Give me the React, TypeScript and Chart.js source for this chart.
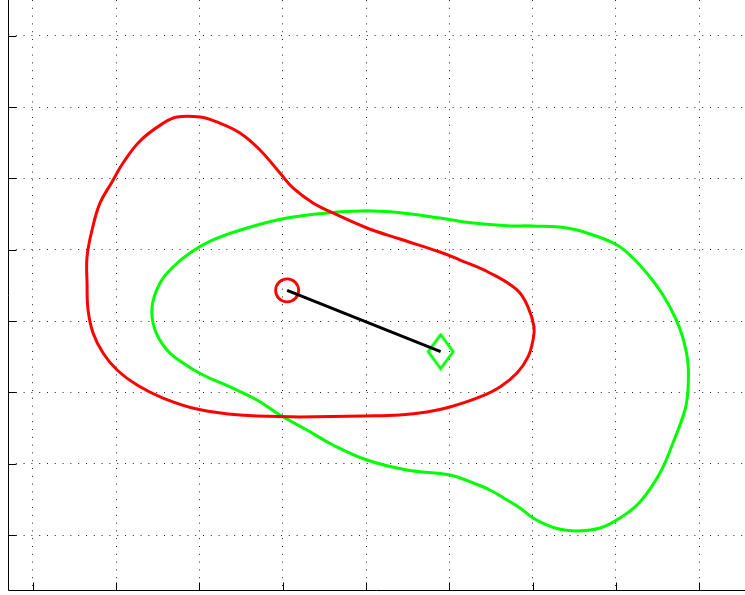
import React, { useEffect, useRef } from "react";
import { Chart, registerables } from "chart.js";

Chart.register(...registerables);

// Axis ticks (no labels shown in the reference)
const xTicks = [0, 1, 2, 3, 4, 5, 6, 7, 8];
const yTicks = [0, 1, 2, 3, 4, 5, 6, 7];
const xRange = [-0.298, 8.55];
const yRange = [-0.771, 7.5];

// Red closed contour
const redX = [1.731, 2.007, 2.211, 2.487, 2.727, 2.967, 3.123, 3.363, 3.603, 4.011, 4.407, 4.888, 5.128, 5.488, 5.813, 5.945, 6.017, 6.005, 5.945, 5.813, 5.608, 5.368, 5.008, 4.732, 4.407, 3.963, 3.207, 2.487, 1.971, 1.563, 1.251, 1.011, 0.843, 0.723, 0.663, 0.651, 0.651, 0.711, 0.807, 0.951, 1.083, 1.287, 1.551];
const redY = [5.860, 5.860, 5.790, 5.636, 5.398, 5.075, 4.865, 4.655, 4.515, 4.304, 4.150, 3.967, 3.855, 3.673, 3.435, 3.196, 2.916, 2.734, 2.496, 2.271, 2.075, 1.935, 1.794, 1.724, 1.682, 1.668, 1.654, 1.682, 1.766, 1.920, 2.103, 2.313, 2.552, 2.832, 3.155, 3.533, 3.898, 4.276, 4.655, 4.950, 5.215, 5.524, 5.762];

// Green closed contour
const greenX = [1.431, 1.527, 1.683, 1.887, 2.163, 2.571, 3.051, 3.567, 4.011, 4.407, 4.888, 5.284, 5.692, 6.005, 6.413, 6.725, 7.013, 7.205, 7.409, 7.565, 7.709, 7.805, 7.865, 7.865, 7.829, 7.685, 7.529, 7.289, 7.049, 6.809, 6.533, 6.329, 6.173, 6.005, 5.848, 5.692, 5.488, 5.248, 5.008, 4.492, 4.011, 3.603, 3.291, 2.967, 2.691, 2.367, 2.043, 1.803, 1.611, 1.467];
const greenY = [3.196, 3.533, 3.757, 3.953, 4.136, 4.304, 4.444, 4.518, 4.546, 4.518, 4.444, 4.374, 4.336, 4.332, 4.304, 4.206, 4.066, 3.883, 3.617, 3.365, 3.056, 2.762, 2.411, 2.033, 1.752, 1.290, 0.869, 0.463, 0.238, 0.098, 0.056, 0.080, 0.140, 0.238, 0.379, 0.491, 0.631, 0.747, 0.841, 0.911, 1.051, 1.262, 1.472, 1.682, 1.893, 2.075, 2.243, 2.411, 2.594, 2.874];

// Centres
const redCenter = [3.053, 3.428];
const greenCenter = [4.896, 2.570];

// Build a closed path, starting the loop at a flat part of the contour
const closed = (xs: number[], ys: number[], start: number) => {
  const n = xs.length;
  const pts = [];
  for (let k = 0; k <= n; k++) {
    const i = (start + k) % n;
    pts.push({ x: xs[i], y: ys[i] });
  }
  return pts;
};

const makeDiamond = () => {
  const c = document.createElement("canvas");
  c.width = 30;
  c.height = 38;
  const g = c.getContext("2d")!;
  g.strokeStyle = "#00ff00";
  g.lineWidth = 2.8;
  g.lineJoin = "miter";
  g.beginPath();
  g.moveTo(15, 2);
  g.lineTo(27.5, 19);
  g.lineTo(15, 36);
  g.lineTo(2.5, 19);
  g.closePath();
  g.stroke();
  return c;
};

const axesPlugin = {
  id: "matlabAxes",
  afterDraw(chart: any) {
    const { ctx, chartArea, scales } = chart;
    const { left, right, top, bottom } = chartArea;
    const L = Math.round(left) + 0.5;
    const B = Math.round(bottom) + 0.5;
    ctx.save();
    ctx.strokeStyle = "#000";
    ctx.lineWidth = 1;
    ctx.setLineDash([]);
    ctx.beginPath();
    ctx.moveTo(L, top);
    ctx.lineTo(L, B);
    ctx.lineTo(right, B);
    xTicks.forEach((v) => {
      const px = Math.round(scales.x.getPixelForValue(v)) + 0.5;
      ctx.moveTo(px, B);
      ctx.lineTo(px, B - 8);
    });
    yTicks.forEach((v) => {
      const py = Math.round(scales.y.getPixelForValue(v)) + 0.5;
      ctx.moveTo(L, py);
      ctx.lineTo(L + 8, py);
    });
    ctx.stroke();
    ctx.restore();
  },
};

export default function App() {
  const ref = useRef<HTMLCanvasElement | null>(null);

  useEffect(() => {
    if (!ref.current) return;
    const diamond = makeDiamond();
    const chart = new Chart(ref.current, {
      type: "scatter",
      data: {
        datasets: [
          {
            data: closed(redX, redY, 26),
            showLine: true,
            borderColor: "#ff0000",
            borderWidth: 3,
            pointRadius: 0,
            tension: 0.4,
          },
          {
            data: closed(greenX, greenY, 8),
            showLine: true,
            borderColor: "#00ff00",
            borderWidth: 3,
            pointRadius: 0,
            tension: 0.4,
          },
          {
            data: [
              { x: redCenter[0], y: redCenter[1] },
              { x: greenCenter[0], y: greenCenter[1] },
            ],
            showLine: true,
            borderColor: "#000000",
            borderWidth: 3,
            pointRadius: 0,
          },
          {
            data: [{ x: redCenter[0], y: redCenter[1] }],
            showLine: false,
            pointStyle: "circle",
            pointRadius: 11.5,
            pointBorderWidth: 2.8,
            pointBorderColor: "#ff0000",
            pointBackgroundColor: "rgba(0,0,0,0)",
          },
          {
            data: [{ x: greenCenter[0], y: greenCenter[1] }],
            showLine: false,
            pointStyle: diamond as any,
            pointRadius: 10,
          },
        ],
      },
      options: {
        animation: false,
        responsive: false,
        maintainAspectRatio: false,
        events: [],
        layout: { autoPadding: false, padding: { left: 8, right: 0, top: 0, bottom: 5 } },
        plugins: { legend: { display: false }, tooltip: { enabled: false } },
        scales: {
          x: {
            type: "linear",
            min: xRange[0],
            max: xRange[1],
            afterBuildTicks: (s: any) => {
              s.ticks = xTicks.map((v) => ({ value: v }));
            },
            ticks: { display: false },
            grid: { color: "#222", lineWidth: 1, drawTicks: false },
            border: { display: false, dash: [1, 6.8] },
          },
          y: {
            type: "linear",
            min: yRange[0],
            max: yRange[1],
            afterBuildTicks: (s: any) => {
              s.ticks = yTicks.map((v) => ({ value: v }));
            },
            ticks: { display: false },
            grid: { color: "#222", lineWidth: 1, drawTicks: false },
            border: { display: false, dash: [1, 6.8] },
          },
        },
      } as any,
      plugins: [axesPlugin],
    });
    return () => chart.destroy();
  }, []);

  return (
    <div style={{ position: "fixed", left: 0, top: 0, width: 745, height: 595, background: "#fff" }}>
      <canvas ref={ref} width={745} height={595} />
    </div>
  );
}
